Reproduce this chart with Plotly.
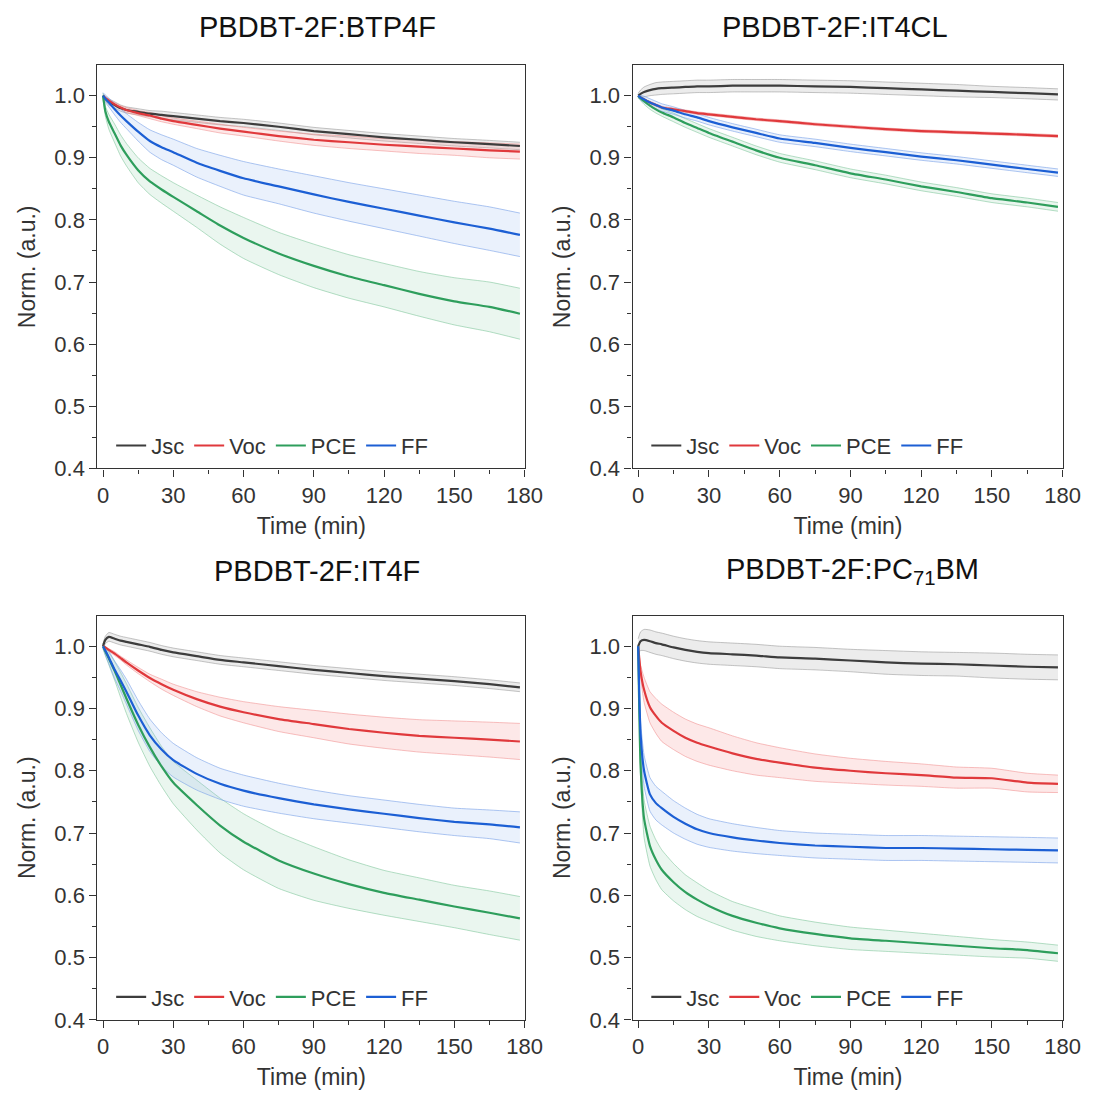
import plotly.graph_objects as go

# ---------------- data ----------------
time_min = [0, 1, 2.5, 5, 7.5, 10, 15, 20, 25, 30, 40, 50, 60, 75, 90, 105, 120, 135, 150, 165, 178]

series_names = ["Jsc", "Voc", "PCE", "FF"]
x_ticks = [0, 30, 60, 90, 120, 150, 180]

# PBDBT-2F:BTP4F
btp4f_jsc = [1.0, 0.995, 0.990, 0.985, 0.980, 0.977, 0.974, 0.971, 0.969, 0.967, 0.963, 0.959, 0.956, 0.950, 0.943, 0.938, 0.933, 0.929, 0.925, 0.922, 0.919]
btp4f_jsc_sd = [0.003, 0.004, 0.005, 0.005, 0.005, 0.005, 0.005, 0.005, 0.006, 0.006, 0.006, 0.006, 0.006, 0.006, 0.006, 0.006, 0.006, 0.006, 0.006, 0.006, 0.006]
btp4f_voc = [1.0, 0.996, 0.992, 0.986, 0.981, 0.977, 0.972, 0.968, 0.963, 0.959, 0.953, 0.947, 0.942, 0.935, 0.929, 0.925, 0.921, 0.918, 0.915, 0.912, 0.910]
btp4f_voc_sd = [0.0, 0.001, 0.002, 0.003, 0.003, 0.004, 0.004, 0.005, 0.005, 0.005, 0.006, 0.007, 0.007, 0.008, 0.009, 0.010, 0.010, 0.011, 0.011, 0.012, 0.012]
btp4f_pce = [1.0, 0.975, 0.958, 0.939, 0.920, 0.905, 0.880, 0.862, 0.849, 0.837, 0.814, 0.791, 0.771, 0.746, 0.726, 0.709, 0.695, 0.681, 0.669, 0.660, 0.649]
btp4f_pce_sd = [0.004, 0.008, 0.012, 0.015, 0.017, 0.018, 0.020, 0.021, 0.022, 0.023, 0.026, 0.030, 0.033, 0.034, 0.035, 0.035, 0.035, 0.036, 0.038, 0.040, 0.041]
btp4f_ff = [1.0, 0.995, 0.989, 0.978, 0.968, 0.959, 0.942, 0.927, 0.917, 0.909, 0.892, 0.879, 0.867, 0.854, 0.841, 0.829, 0.818, 0.807, 0.796, 0.786, 0.776]
btp4f_ff_sd = [0.005, 0.006, 0.007, 0.009, 0.011, 0.012, 0.015, 0.018, 0.020, 0.021, 0.023, 0.025, 0.027, 0.028, 0.030, 0.031, 0.032, 0.033, 0.034, 0.035, 0.035]

# PBDBT-2F:IT4CL
it4cl_jsc = [1.0, 1.003, 1.006, 1.009, 1.011, 1.012, 1.013, 1.014, 1.015, 1.015, 1.016, 1.016, 1.016, 1.015, 1.014, 1.012, 1.010, 1.008, 1.006, 1.004, 1.002]
it4cl_jsc_sd = [0.004, 0.006, 0.008, 0.009, 0.010, 0.010, 0.010, 0.010, 0.010, 0.010, 0.010, 0.010, 0.010, 0.010, 0.010, 0.010, 0.010, 0.010, 0.009, 0.009, 0.009]
it4cl_voc = [1.0, 0.997, 0.994, 0.989, 0.985, 0.981, 0.978, 0.975, 0.972, 0.970, 0.966, 0.962, 0.959, 0.954, 0.950, 0.946, 0.943, 0.941, 0.939, 0.937, 0.935]
it4cl_voc_sd = [0.0, 0.001, 0.001, 0.002, 0.002, 0.002, 0.002, 0.002, 0.002, 0.002, 0.002, 0.002, 0.002, 0.002, 0.002, 0.002, 0.002, 0.002, 0.002, 0.002, 0.002]
it4cl_pce = [1.0, 0.996, 0.991, 0.984, 0.978, 0.973, 0.965, 0.956, 0.948, 0.940, 0.926, 0.912, 0.900, 0.888, 0.875, 0.865, 0.854, 0.845, 0.835, 0.828, 0.821]
it4cl_pce_sd = [0.003, 0.004, 0.005, 0.006, 0.006, 0.006, 0.007, 0.007, 0.007, 0.007, 0.007, 0.007, 0.007, 0.007, 0.007, 0.007, 0.007, 0.007, 0.007, 0.007, 0.007]
it4cl_ff = [1.0, 0.997, 0.994, 0.989, 0.985, 0.981, 0.976, 0.970, 0.965, 0.959, 0.949, 0.940, 0.931, 0.924, 0.916, 0.909, 0.902, 0.896, 0.889, 0.882, 0.876]
it4cl_ff_sd = [0.003, 0.004, 0.005, 0.006, 0.006, 0.006, 0.006, 0.006, 0.006, 0.006, 0.006, 0.006, 0.006, 0.006, 0.006, 0.006, 0.006, 0.006, 0.006, 0.006, 0.006]

# PBDBT-2F:IT4F
it4f_jsc = [1.0, 1.010, 1.015, 1.012, 1.009, 1.007, 1.003, 0.999, 0.994, 0.990, 0.984, 0.978, 0.974, 0.968, 0.962, 0.957, 0.952, 0.948, 0.944, 0.939, 0.934]
it4f_jsc_sd = [0.004, 0.006, 0.007, 0.007, 0.007, 0.007, 0.007, 0.007, 0.007, 0.007, 0.007, 0.007, 0.007, 0.007, 0.007, 0.007, 0.007, 0.007, 0.007, 0.007, 0.007]
it4f_voc = [1.0, 0.998, 0.994, 0.988, 0.981, 0.974, 0.961, 0.949, 0.939, 0.930, 0.915, 0.903, 0.894, 0.883, 0.875, 0.867, 0.861, 0.856, 0.853, 0.850, 0.847]
it4f_voc_sd = [0.0, 0.001, 0.002, 0.003, 0.003, 0.004, 0.005, 0.006, 0.008, 0.009, 0.012, 0.015, 0.017, 0.020, 0.022, 0.024, 0.025, 0.026, 0.027, 0.028, 0.029]
it4f_pce = [1.0, 0.992, 0.980, 0.960, 0.938, 0.916, 0.874, 0.838, 0.807, 0.781, 0.745, 0.712, 0.686, 0.656, 0.635, 0.618, 0.604, 0.593, 0.582, 0.572, 0.563]
it4f_pce_sd = [0.004, 0.007, 0.010, 0.015, 0.020, 0.024, 0.028, 0.031, 0.032, 0.034, 0.040, 0.044, 0.045, 0.045, 0.043, 0.039, 0.036, 0.035, 0.034, 0.035, 0.035]
it4f_ff = [1.0, 0.993, 0.982, 0.962, 0.945, 0.927, 0.889, 0.857, 0.834, 0.817, 0.795, 0.779, 0.768, 0.756, 0.746, 0.738, 0.731, 0.724, 0.718, 0.714, 0.709]
it4f_ff_sd = [0.004, 0.007, 0.010, 0.014, 0.017, 0.020, 0.024, 0.026, 0.027, 0.027, 0.026, 0.025, 0.025, 0.024, 0.023, 0.022, 0.022, 0.022, 0.022, 0.023, 0.025]

# PBDBT-2F:PC71BM
pc71bm_jsc = [1.0, 1.008, 1.010, 1.008, 1.005, 1.003, 0.998, 0.994, 0.991, 0.989, 0.987, 0.985, 0.982, 0.980, 0.977, 0.974, 0.972, 0.971, 0.969, 0.967, 0.966]
pc71bm_jsc_sd = [0.012, 0.015, 0.017, 0.018, 0.018, 0.018, 0.018, 0.018, 0.018, 0.018, 0.018, 0.018, 0.018, 0.018, 0.018, 0.019, 0.019, 0.019, 0.020, 0.020, 0.020]
pc71bm_voc = [1.0, 0.960, 0.930, 0.902, 0.888, 0.877, 0.864, 0.853, 0.845, 0.839, 0.828, 0.819, 0.813, 0.805, 0.800, 0.796, 0.793, 0.789, 0.788, 0.781, 0.779]
pc71bm_voc_sd = [0.0, 0.010, 0.020, 0.025, 0.028, 0.030, 0.030, 0.030, 0.030, 0.030, 0.028, 0.026, 0.024, 0.022, 0.020, 0.019, 0.018, 0.017, 0.016, 0.015, 0.014]
pc71bm_pce = [1.0, 0.810, 0.723, 0.679, 0.657, 0.641, 0.621, 0.605, 0.593, 0.583, 0.567, 0.556, 0.547, 0.538, 0.531, 0.527, 0.523, 0.519, 0.515, 0.512, 0.507]
pc71bm_pce_sd = [0.0, 0.020, 0.030, 0.032, 0.032, 0.032, 0.030, 0.028, 0.027, 0.025, 0.023, 0.022, 0.020, 0.019, 0.018, 0.017, 0.016, 0.015, 0.014, 0.013, 0.013]
pc71bm_ff = [1.0, 0.860, 0.800, 0.762, 0.748, 0.740, 0.726, 0.715, 0.706, 0.700, 0.693, 0.688, 0.684, 0.680, 0.678, 0.676, 0.676, 0.675, 0.674, 0.673, 0.672]
pc71bm_ff_sd = [0.0, 0.020, 0.025, 0.027, 0.027, 0.027, 0.026, 0.025, 0.024, 0.023, 0.022, 0.021, 0.020, 0.020, 0.020, 0.020, 0.020, 0.020, 0.020, 0.020, 0.020]

panel_titles = ["PBDBT-2F:BTP4F", "PBDBT-2F:IT4CL", "PBDBT-2F:IT4F", "PBDBT-2F:PC<sub>71</sub>BM"]

# ---------------- styling ----------------
W, H = 1105, 1106
FONT = "Liberation Sans, Arial, sans-serif"
TXT = "#333333"

styles = {
    "Jsc": dict(line="#3d3d3d", edge="rgba(150,150,150,0.55)", fill="rgba(170,170,170,0.22)"),
    "Voc": dict(line="#e0393c", edge="rgba(240,140,140,0.55)", fill="rgba(245,150,150,0.22)"),
    "PCE": dict(line="#2e9e5c", edge="rgba(120,195,150,0.55)", fill="rgba(140,205,165,0.18)"),
    "FF":  dict(line="#1c5fd4", edge="rgba(120,160,232,0.6)",  fill="rgba(150,185,240,0.2)"),
}

panels = [
    dict(title=panel_titles[0], data={"Jsc": (btp4f_jsc, btp4f_jsc_sd), "Voc": (btp4f_voc, btp4f_voc_sd),
                                      "PCE": (btp4f_pce, btp4f_pce_sd), "FF": (btp4f_ff, btp4f_ff_sd)}),
    dict(title=panel_titles[1], data={"Jsc": (it4cl_jsc, it4cl_jsc_sd), "Voc": (it4cl_voc, it4cl_voc_sd),
                                      "PCE": (it4cl_pce, it4cl_pce_sd), "FF": (it4cl_ff, it4cl_ff_sd)}),
    dict(title=panel_titles[2], data={"Jsc": (it4f_jsc, it4f_jsc_sd), "Voc": (it4f_voc, it4f_voc_sd),
                                      "PCE": (it4f_pce, it4f_pce_sd), "FF": (it4f_ff, it4f_ff_sd)}),
    dict(title=panel_titles[3], data={"Jsc": (pc71bm_jsc, pc71bm_jsc_sd), "Voc": (pc71bm_voc, pc71bm_voc_sd),
                                      "PCE": (pc71bm_pce, pc71bm_pce_sd), "FF": (pc71bm_ff, pc71bm_ff_sd)}),
]

# pixel boxes of the plot frames (left, right, top, bottom)
boxes = [(99, 534, 66, 474), (643, 1081, 66, 474), (99, 534, 623, 1032), (643, 1081, 623, 1032)]
title_pos = [(323, 27), (849, 27), (322, 578), (867, 578)]

fig = go.Figure()
layout = dict(width=W, height=H, margin=dict(l=0, r=0, t=0, b=0),
              paper_bgcolor="white", plot_bgcolor="white",
              font=dict(family=FONT, color=TXT, size=22), annotations=[])

for i, p in enumerate(panels):
    n = "" if i == 0 else str(i + 1)
    xa, ya = "x" + n, "y" + n
    lg = "legend" + n
    # bands
    for s in series_names:
        mean, sd = p["data"][s]
        lo = [m - d for m, d in zip(mean, sd)]
        hi = [m + d for m, d in zip(mean, sd)]
        st = styles[s]
        fig.add_trace(go.Scatter(x=time_min, y=lo, mode="lines", xaxis=xa, yaxis=ya,
                                 line=dict(color=st["edge"], width=1, shape="spline", smoothing=0.5),
                                 showlegend=False, hoverinfo="skip"))
        fig.add_trace(go.Scatter(x=time_min, y=hi, mode="lines", xaxis=xa, yaxis=ya, fill="tonexty",
                                 fillcolor=st["fill"],
                                 line=dict(color=st["edge"], width=1, shape="spline", smoothing=0.5),
                                 showlegend=False, hoverinfo="skip"))
    # mean lines
    for s in series_names:
        mean, sd = p["data"][s]
        fig.add_trace(go.Scatter(x=time_min, y=mean, mode="lines", name=s, xaxis=xa, yaxis=ya,
                                 legend=lg,
                                 line=dict(color=styles[s]["line"], width=2.2, shape="spline", smoothing=0.5)))

    l, r, t, b = boxes[i]
    common = dict(showline=True, linecolor="#333333", linewidth=1.2, mirror=True, showgrid=False,
                  zeroline=False, ticks="outside", ticklen=7, tickwidth=1.2, tickcolor="#333333",
                  tickfont=dict(size=22, color=TXT, family=FONT))
    layout["xaxis" + n] = dict(common, domain=[l / W, r / W], anchor=ya, range=[-2.4, 180.3],
                               tickvals=x_ticks,
                               minor=dict(ticks="outside", ticklen=4, tickwidth=1.2, tickcolor="#333333",
                                          dtick=15, tick0=0),
                               title=dict(text="Time (min)", font=dict(size=23, color=TXT, family=FONT),
                                          standoff=10))
    layout["yaxis" + n] = dict(common, domain=[1 - b / H, 1 - t / H], anchor=xa, range=[0.4, 1.049],
                               dtick=0.1, tick0=0.4, tickformat=".1f",
                               minor=dict(ticks="outside", ticklen=4, tickwidth=1.2, tickcolor="#333333",
                                          dtick=0.05, tick0=0.4),
                               title=dict(text="Norm. (a.u.)", font=dict(size=23, color=TXT, family=FONT),
                                          standoff=12))
    layout[lg] = dict(orientation="h", x=(l + 14) / W, y=1 - (b - 23) / H, xanchor="left", yanchor="middle",
                      bgcolor="rgba(0,0,0,0)", font=dict(size=22, color=TXT, family=FONT),
                      itemwidth=30, tracegroupgap=0, traceorder="normal")
    tx, ty = title_pos[i]
    layout["annotations"].append(dict(text=p["title"], x=tx / W, y=1 - ty / H, xref="paper", yref="paper",
                                      xanchor="center", yanchor="middle", showarrow=False,
                                      font=dict(size=29, color="#111111", family=FONT)))

fig.update_layout(**layout)
fig.write_html("out.html")
